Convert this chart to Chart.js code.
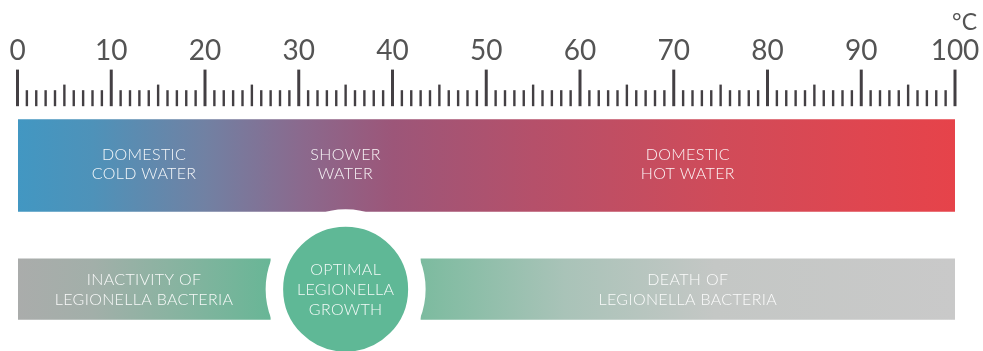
<!DOCTYPE html>
<html><head><meta charset="utf-8">
<script src="https://cdn.jsdelivr.net/npm/chart.js@4.4.1/dist/chart.umd.min.js"></script>
<style>html,body{margin:0;padding:0;background:#fff;}</style>
</head><body>
<canvas id="c" width="983" height="351"></canvas>
<script>
// ---- data ----
const rows = ['Water use', 'Legionella'];
const tempMin = 0;
const tempMax = 100;
const tickLabels = ['0', '10', '20', '30', '40', '50', '60', '70', '80', '90', '100'];
const unitLabel = '°C';
const waterZones = ['DOMESTIC\nCOLD WATER', 'SHOWER\nWATER', 'DOMESTIC\nHOT WATER'];
const waterRanges = [[0, 27], [27, 43], [43, 100]];
const legionellaZones = ['INACTIVITY OF\nLEGIONELLA BACTERIA', 'OPTIMAL\nLEGIONELLA\nGROWTH', 'DEATH OF\nLEGIONELLA BACTERIA'];
const legionellaRanges = [[0, 27], [27, 43], [43, 100]];

// ---- styles ----
const FONT = 'Lato, "Open Sans", sans-serif';

function hGradient(chart, from, to, stops) {
  const xs = chart.scales.x;
  if (!xs || !chart.chartArea) return stops[0][1];
  const g = chart.ctx.createLinearGradient(xs.getPixelForValue(from), 0, xs.getPixelForValue(to), 0);
  stops.forEach(s => g.addColorStop(s[0], s[1]));
  return g;
}

const waterStops = [[0, '#4297c2'], [0.08, '#4e92b9'], [0.2, '#7181a3'], [0.3, '#8a6a8e'], [0.4, '#9c5679'],
  [0.55, '#b5506a'], [0.75, '#d04b59'], [0.9, '#df4650'], [1, '#e6434a']];
const inactStops = [[0, '#aaacab'], [0.3, '#a2afa9'], [0.6, '#8ab3a1'], [1, '#68b696']];
const deathStops = [[0, '#7cbb9f'], [0.27, '#a9c3b8'], [0.55, '#c4c7c5'], [1, '#c9c9c9']];

const waterSpan = [waterRanges[0][0], waterRanges[waterRanges.length - 1][1]];
const inact = legionellaRanges[0];
const optimal = legionellaRanges[1];
const death = legionellaRanges[2];

const overlay = {
  id: 'overlay',
  afterDatasetsDraw(chart) {
    const ctx = chart.ctx, xs = chart.scales.x, ys = chart.scales.y;
    ctx.save();
    ctx.fillStyle = 'rgba(255,255,255,0.93)';
    ctx.textAlign = 'center';
    ctx.textBaseline = 'middle';
    ctx.font = '300 16px ' + FONT;
    ctx.letterSpacing = '0.35px';
    const drawZone = (label, range, row, dy) => {
      const lines = label.split('\n');
      const cx = xs.getPixelForValue((range[0] + range[1]) / 2);
      const cy = ys.getPixelForValue(row) + dy;
      const lh = 19.7;
      lines.forEach((ln, i) => ctx.fillText(ln, cx, cy + (i - (lines.length - 1) / 2) * lh));
    };
    waterZones.forEach((z, i) => drawZone(z, waterRanges[i], 0, -1));
    legionellaZones.forEach((z, i) => drawZone(z, legionellaRanges[i], 1, 0.8));
    ctx.restore();
  },
  afterDraw(chart) {
    const ctx = chart.ctx, xs = chart.scales.x;
    ctx.save();
    ctx.strokeStyle = '#433f43';
    const bottom = chart.chartArea.top + 2.6;
    for (let v = tempMin; v <= tempMax; v++) {
      const px = xs.getPixelForValue(v);
      let len = 16, w = 2.4;
      if (v % 10 === 0) { len = 36.6; w = 3; }
      else if (v % 5 === 0) { len = 21.6; w = 2.4; }
      ctx.lineWidth = w;
      ctx.beginPath();
      ctx.moveTo(px, bottom - len);
      ctx.lineTo(px, bottom);
      ctx.stroke();
    }
    ctx.fillStyle = '#545454';
    ctx.font = '400 23px ' + FONT;
    ctx.textAlign = 'right';
    ctx.textBaseline = 'alphabetic';
    ctx.fillText(unitLabel, xs.getPixelForValue(tempMax) + 22, 29.5);
    ctx.restore();
  }
};

new Chart(document.getElementById('c'), {
  type: 'bar',
  data: {
    labels: rows,
    datasets: [
      {
        type: 'bubble',
        label: legionellaZones[1],
        data: [{ x: (optimal[0] + optimal[1]) / 2, y: rows[1] }],
        radius: 71.25,
        backgroundColor: '#5fb896',
        borderColor: '#ffffff',
        borderWidth: 17.5,
        order: 0,
        clip: false
      },
      {
        label: 'Water temperature',
        data: [waterSpan, null],
        backgroundColor: c => hGradient(c.chart, waterSpan[0], waterSpan[1], waterStops),
        barPercentage: 0.747, categoryPercentage: 1,
        order: 2
      },
      {
        label: legionellaZones[0],
        data: [null, inact],
        backgroundColor: c => hGradient(c.chart, inact[0], inact[1], inactStops),
        barPercentage: 0.495, categoryPercentage: 1,
        order: 2
      },
      {
        label: legionellaZones[2],
        data: [null, death],
        backgroundColor: c => hGradient(c.chart, death[0], death[1], deathStops),
        barPercentage: 0.495, categoryPercentage: 1,
        order: 2
      }
    ]
  },
  options: {
    indexAxis: 'y',
    responsive: false,
    animation: false,
    events: [],
    grouped: false,
    layout: { autoPadding: false, padding: { left: 17.5, right: 28, top: 31, bottom: -4 } },
    plugins: { legend: { display: false }, tooltip: { enabled: false } },
    scales: {
      x: {
        type: 'linear',
        position: 'top',
        min: tempMin,
        max: tempMax,
        grid: { display: true, drawOnChartArea: false, drawTicks: true, tickLength: 33, tickColor: 'rgba(0,0,0,0)' },
        border: { display: false },
        ticks: {
          stepSize: 10,
          autoSkip: false,
          maxRotation: 0,
          padding: 3,
          color: '#545454',
          font: { family: FONT, size: 28, weight: '400' },
          callback: (v) => tickLabels[Math.round((v - tempMin) / 10)]
        }
      },
      y: {
        type: 'category',
        display: false,
        grid: { display: false }
      }
    }
  },
  plugins: [overlay]
});
</script>
</body></html>
